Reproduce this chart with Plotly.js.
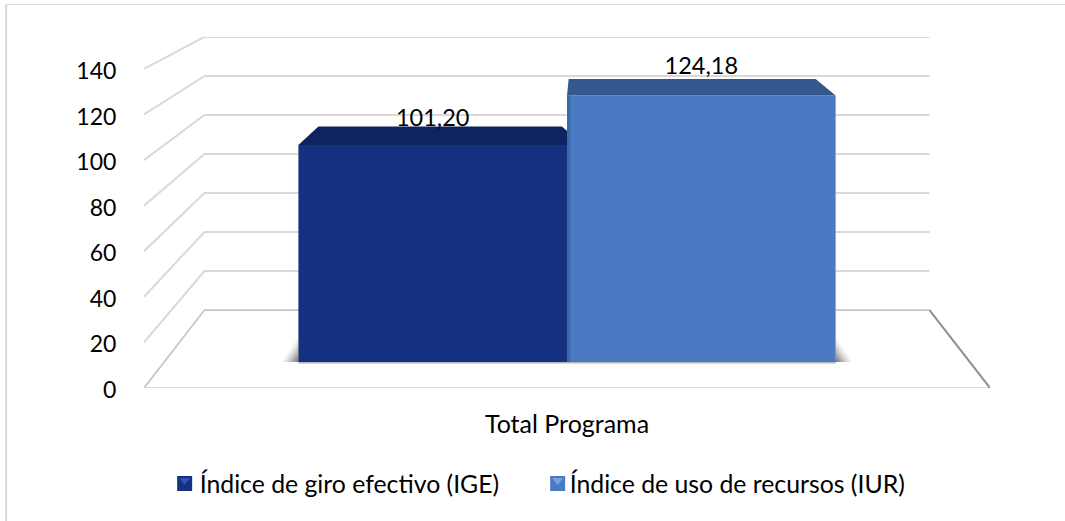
<!DOCTYPE html>
<html><head><meta charset="utf-8">
<script src="https://cdn.plot.ly/plotly-3.0.1.min.js"></script>
<style>html,body{margin:0;padding:0;background:#fff}</style></head>
<body><div id="chart" style="width:1065px;height:521px"></div>
<script>
const categories = ['Total Programa'];
const seriesNames = ['Índice de giro efectivo (IGE)', 'Índice de uso de recursos (IUR)'];
const ige = [101.20];
const iur = [124.18];
const tickVals = [0, 20, 40, 60, 80, 100, 120, 140];

const FONT = 'Lato, "Open Sans", sans-serif';
const bargap = 0.365;
const bw = (1 - bargap) / 2;
const backHalf = 0.4285;         // half-width of back wall, in x units
const backLift = 34.2;           // floor depth in front-scale value units
const backScale = 0.856;         // back wall scale relative to the front
const backY = v => backLift + backScale * v;
const inset = 0.0236;
const depth = [8.6, 7.7];

const wx = [], wy = [];
tickVals.slice(1).forEach(v => {
  wx.push(-0.5, -backHalf, backHalf, null);
  wy.push(v, backY(v), backY(v), null);
});
const wall = (x, y, color, w) => ({type:'scatter', mode:'lines', x, y, xaxis:'x', yaxis:'y', cliponaxis:false,
  line:{color, width:w, simplify:false}, showlegend:false, hoverinfo:'skip', connectgaps:false});
const poly = (x, y, color, xa, ya) => ({type:'scatter', mode:'lines', x, y, xaxis:xa, yaxis:ya, fill:'toself',
  fillcolor:color, line:{width:0}, showlegend:false, hoverinfo:'skip', cliponaxis:false});

const traces = [
  wall(wx, wy, '#d9d9d9', 2),
  wall([-0.5, -backHalf, backHalf], [0, backLift, backLift], '#c6c6c6', 1.8),
  wall([-0.5, 0.5], [0, 0], '#d9d9d9', 2),
  wall([backHalf, 0.5], [backLift, 0], '#8f8f8f', 2)
];

const barTraces = [
  {type:'bar', name:seriesNames[0], x:categories, y:ige, xaxis:'x2', yaxis:'y2', marker:{color:'#153181'}},
  {type:'bar', name:seriesNames[1], x:categories, y:iur, xaxis:'x2', yaxis:'y2', marker:{color:'#4a7bc2'}}
];
// soft shadows at the foot of the bars, drawn under the bars
const shadows = [];
[[0.020,0.06],[0.017,0.08],[0.014,0.10],[0.011,0.13],[0.008,0.16],[0.005,0.2],[0.002,0.25]].forEach(([d,a]) => {
  const c = 'rgba(50,50,50,' + a + ')';
  const h = d * 570;
  shadows.push(poly([-bw, -bw - d, -bw], [0, 0, h], c, 'x4', 'y4'));
  shadows.push(poly([bw, bw + d, bw], [0, 0, h], c, 'x4', 'y4'));
});
const foot = poly([-bw, bw, bw, -bw], [0, 0, -0.7, -0.7], 'rgba(120,120,120,0.55)', 'x4', 'y4');
const top1 = poly([-bw, -bw + inset, -0.006, 0, 0],
  [ige[0], ige[0] + depth[0], ige[0] + depth[0], ige[0] + depth[0] - 2, ige[0]], '#0f2360', 'x3', 'y3');
const top2 = poly([0, 0.002, bw - inset, bw, 0],
  [iur[0], iur[0] + depth[1], iur[0] + depth[1], iur[0], iur[0]], '#33588f', 'x3', 'y3');
const bevel = poly([0, 0.004, 0.004, 0], [0, 0, iur[0], iur[0]], '#3d69a8', 'x3', 'y3');
const labels = {type:'scatter', mode:'text', xaxis:'x3', yaxis:'y3', cliponaxis:false, showlegend:false, hoverinfo:'skip',
  x:[-bw / 2, bw / 2], y:[ige[0] + depth[0] - 2.4, iur[0] + depth[1] - 0.2],
  text:[ige[0], iur[0]].map(v => v.toFixed(2).replace('.', ',')),
  textposition:'top center', textfont:{family:FONT, size:23.5, color:'#000'}};

const layout = {
  width:1065, height:521, margin:{l:144, r:75, t:37, b:133},
  paper_bgcolor:'#fff', plot_bgcolor:'rgba(0,0,0,0)',
  font:{family:FONT, size:24, color:'#000'},
  barmode:'group', bargap:bargap, bargroupgap:0,
  xaxis:{type:'linear', range:[-0.5,0.5], visible:false, fixedrange:true},
  yaxis:{range:[0,154], tickvals:tickVals, ticktext:tickVals.map(String), ticks:'outside', ticklen:22, ticklabelshift:2,
         tickcolor:'rgba(0,0,0,0)', showgrid:false, zeroline:false, showline:false, tickfont:{family:FONT,size:23,color:'#000'}},
  xaxis2:{type:'category', overlaying:'x', anchor:'y2', categoryarray:categories, showgrid:false, zeroline:false, showline:false,
          ticks:'outside', ticklen:14, tickcolor:'rgba(0,0,0,0)', tickfont:{family:FONT,size:25,color:'#000'}},
  yaxis2:{overlaying:'y', range:[-12.12,151.5], visible:false},
  xaxis3:{type:'linear', overlaying:'x', anchor:'y3', range:[-0.5,0.5], visible:false},
  yaxis3:{overlaying:'y', range:[-12.12,151.5], visible:false},
  xaxis4:{type:'linear', overlaying:'x', anchor:'y4', range:[-0.5,0.5], visible:false},
  yaxis4:{overlaying:'y', range:[-12.12,151.5], visible:false},
  showlegend:true,
  legend:{orientation:'h', xref:'paper', yref:'paper', x:0.0185, y:-0.2735, yanchor:'middle', xanchor:'left',
          entrywidth:355, entrywidthmode:'pixels', itemwidth:30,
          font:{family:FONT,size:24.8,color:'#000'}, bgcolor:'rgba(0,0,0,0)', traceorder:'normal'},
  shapes:[{type:'line', xref:'paper', yref:'paper', x0:-0.163, x1:1.0887, y0:1.0926, y1:1.0926, line:{color:'#d9d9d9', width:1}, layer:'below'},
          {type:'line', xref:'paper', yref:'paper', x0:-0.163, x1:-0.163, y0:-0.4, y1:1.0926, line:{color:'#d9d9d9', width:2}, layer:'below'}]
};
Plotly.newPlot('chart', traces.concat(shadows, [foot], barTraces, [top1, top2, bevel, labels]), layout, {displayModeBar:false, staticPlot:true})
.then(gd => {
  const light = ['#2f52ad', '#79a3dc'];
  const shift = [5, 8];
  gd.querySelectorAll('.legend .traces').forEach((g, i) => {
    const p = g.querySelector('.legendpoints path');
    if (!p) return;
    const s = shift[i];
    p.setAttribute('d', `M${7.5+s},7.5H${-7.5+s}V-7.5H${7.5+s}Z`);
    const t = p.cloneNode();
    t.setAttribute('d', `M${-5.5+s},-5.5H${5.5+s}L${s},1.5Z`);
    t.style.fill = light[i];
    p.parentNode.appendChild(t);
    if (i === 1) {
      const m = /translate\(([-\d.]+),?\s*([-\d.]+)?\)/.exec(g.getAttribute('transform'));
      if (m) g.setAttribute('transform', `translate(${parseFloat(m[1]) - 30},${m[2] || 0})`);
    }
  });
});
</script>
</body></html>
